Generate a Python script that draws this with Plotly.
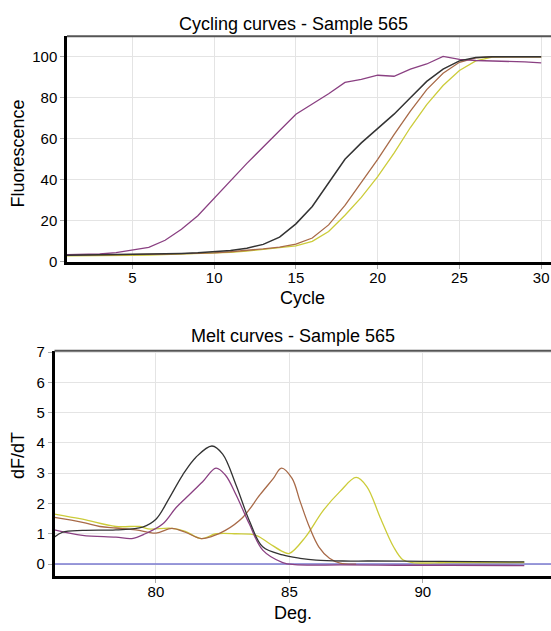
import plotly.graph_objects as go

# ---------------- Cycling curves data ----------------
cycles = list(range(1, 31))
cyc_purple = [3.5, 3.6, 3.8, 4.5, 5.6, 7.0, 10.5, 15.9, 22.5, 31.0, 40.0, 48.0, 56.0, 64.0, 72.0,
              77.0, 82.0, 87.5, 89.0, 91.0, 90.5, 94.0, 96.5, 100.2, 98.7, 98.2, 98.0, 98.0, 97.5, 97.0]
cyc_black = [3.2, 3.3, 3.4, 3.5, 3.6, 3.8, 3.9, 4.1, 4.4, 4.8, 5.5, 6.6, 8.5, 12.0, 18.5,
             27.0, 38.5, 50.0, 58.0, 65.0, 72.0, 80.0, 88.0, 94.0, 98.0, 99.6, 100.0, 100.0, 100.0, 100.0]
cyc_brown = [3.3, 3.3, 3.3, 3.4, 3.5, 3.6, 3.7, 3.9, 4.1, 4.4, 4.9, 5.5, 6.3, 7.2, 8.6,
             11.6, 18.0, 27.5, 38.6, 50.0, 62.0, 73.5, 84.0, 92.0, 97.3, 99.5, 100.0, 100.0, 100.0, 100.0]
cyc_yellow = [2.9, 2.9, 3.0, 3.1, 3.2, 3.3, 3.5, 3.7, 3.9, 4.2, 4.6, 5.2, 6.0, 6.8, 7.8,
              10.0, 14.8, 22.7, 31.4, 41.5, 53.0, 65.5, 76.7, 86.0, 93.3, 98.0, 99.8, 100.0, 100.0, 100.0]

# ---------------- Melt curves data ----------------
melt_black_T = [76.2, 76.5, 77.25, 78.5, 79.5, 80.0, 80.5, 81.0, 81.5, 82.1, 82.5, 83.0, 83.5, 84.0,
                84.75, 85.4, 86.0, 87.0, 88.0, 90.0, 92.0, 93.8]
melt_black_v = [0.89, 1.05, 1.11, 1.13, 1.22, 1.48, 2.18, 2.94, 3.53, 3.9, 3.63, 2.61, 1.43, 0.57,
                0.3, 0.19, 0.13, 0.1, 0.1, 0.09, 0.08, 0.07]
melt_purple_T = [76.2, 77.25, 78.5, 79.1, 79.6, 80.25, 80.75, 81.25, 81.75, 82.25, 82.6, 83.0, 83.5,
                 84.0, 84.75, 85.2, 87.0, 89.0, 91.0, 93.8]
melt_purple_v = [1.13, 0.95, 0.89, 0.84, 1.0, 1.32, 1.86, 2.29, 2.72, 3.17, 2.94, 2.29, 1.32,
                 0.46, 0.05, -0.02, -0.03, -0.04, -0.04, -0.05]
melt_brown_T = [76.2, 77.25, 77.9, 78.5, 79.25, 80.0, 80.6, 81.1, 81.7, 82.1, 82.6, 83.25, 83.9,
                84.4, 84.7, 85.1, 85.4, 85.75, 86.1, 86.5, 86.9, 87.5]
melt_brown_v = [1.54, 1.38, 1.24, 1.19, 1.13, 1.02, 1.18, 1.05, 0.84, 0.91, 1.11, 1.54, 2.29,
                2.83, 3.17, 2.83, 2.07, 1.22, 0.57, 0.19, 0.03, 0.0]
melt_yellow_T = [76.2, 77.25, 78.5, 79.4, 79.7, 80.6, 81.1, 81.7, 82.25, 83.0, 83.75, 84.25, 84.75,
                 85.0, 85.6, 86.25, 86.9, 87.5, 87.9, 88.4, 88.9, 89.25, 89.6, 91.0, 93.8]
melt_yellow_v = [1.65, 1.48, 1.24, 1.24, 1.16, 1.18, 1.08, 0.84, 1.0, 1.0, 0.95, 0.68, 0.41,
                 0.35, 0.89, 1.75, 2.4, 2.86, 2.56, 1.54, 0.57, 0.14, 0.05, 0.05, 0.05]
baseline_T = [76.2, 94.8]
baseline_v = [0.0, 0.0]

# ---------------- text ----------------
top_title = "Cycling curves - Sample 565"
bot_title = "Melt curves - Sample 565"
top_xlabel, top_ylabel = "Cycle", "Fluorescence"
bot_xlabel, bot_ylabel = "Deg.", "dF/dT"

W, H = 551, 631
FONT = "Liberation Sans, Arial, sans-serif"
C_PURPLE = "#8a4082"
C_BLACK = "#333333"
C_BROWN = "#a86a48"
C_YELLOW = "#cccc3a"
C_BASE = "#7a7ad0"


def px_x(v):
    return v / W


def px_y(v):
    return 1 - v / H


fig = go.Figure()


def add(x, y, color, xa, ya, shape="linear", width=1.3):
    fig.add_trace(go.Scatter(x=x, y=y, mode="lines", xaxis=xa, yaxis=ya,
                             line=dict(color=color, width=width, shape=shape),
                             showlegend=False, hoverinfo="skip"))


add(cycles, cyc_yellow, C_YELLOW, "x", "y")
add(cycles, cyc_brown, C_BROWN, "x", "y")
add(cycles, cyc_purple, C_PURPLE, "x", "y")
add(cycles, cyc_black, C_BLACK, "x", "y", width=1.5)

add(baseline_T, baseline_v, C_BASE, "x2", "y2", width=1.5)
add(melt_yellow_T, melt_yellow_v, C_YELLOW, "x2", "y2", "spline")
add(melt_brown_T, melt_brown_v, C_BROWN, "x2", "y2", "spline")
add(melt_purple_T, melt_purple_v, C_PURPLE, "x2", "y2", "spline")
add(melt_black_T, melt_black_v, C_BLACK, "x2", "y2", "spline")

axis_common = dict(showgrid=True, gridcolor="#e4e4e4", gridwidth=1, zeroline=False,
                   showline=True, linecolor="black", linewidth=2.5,
                   ticks="outside", ticklen=4, tickcolor="#aaaaaa", tickwidth=1,
                   tickfont=dict(family=FONT, size=15, color="black"))

fig.update_layout(
    width=W, height=H, margin=dict(l=0, r=0, t=0, b=0),
    paper_bgcolor="white", plot_bgcolor="white",
    font=dict(family=FONT, color="black"),
    xaxis=dict(domain=[px_x(67), 1.0], range=[1, 30.6], tickvals=[5, 10, 15, 20, 25, 30],
               anchor="y", ticklabelstandoff=-4, **axis_common),
    yaxis=dict(domain=[px_y(261), px_y(30)], range=[0, 110], tickvals=[0, 20, 40, 60, 80, 100],
               anchor="x", **axis_common),
    xaxis2=dict(domain=[px_x(54.5), 1.0], range=[76.2, 94.8], tickvals=[80, 85, 90],
                anchor="y2", ticklabelstandoff=-4, **axis_common),
    yaxis2=dict(domain=[px_y(583), px_y(352)], range=[-0.4, 7.05], tickvals=list(range(0, 8)),
                anchor="x2", **axis_common),
)

# top frame lines
for xa, ya in (("x", "y"), ("x2", "y2")):
    fig.add_shape(type="line", xref=f"{xa} domain", yref=f"{ya} domain",
                  x0=0, x1=1, y0=1, y1=1, line=dict(color="#555555", width=2))


def ann(text, x, y, size=18, angle=0):
    fig.add_annotation(text=text, x=px_x(x), y=px_y(y), xref="paper", yref="paper",
                       showarrow=False, textangle=angle, xanchor="center", yanchor="middle",
                       font=dict(family=FONT, size=size, color="black"))


ann(top_title, 293, 17)
ann(top_xlabel, 302, 298)
ann(top_ylabel, 18, 150, angle=-90)
ann(bot_title, 293, 337)
ann(bot_xlabel, 293, 621)
ann(bot_ylabel, 18, 460, angle=-90)

# remove the default page margin so the 551x631 figure fills the window exactly
fig.write_html("out.html",
               config={"displayModeBar": False},
               post_script="document.body.style.margin='0';"
                           "document.documentElement.style.overflow='hidden';")
